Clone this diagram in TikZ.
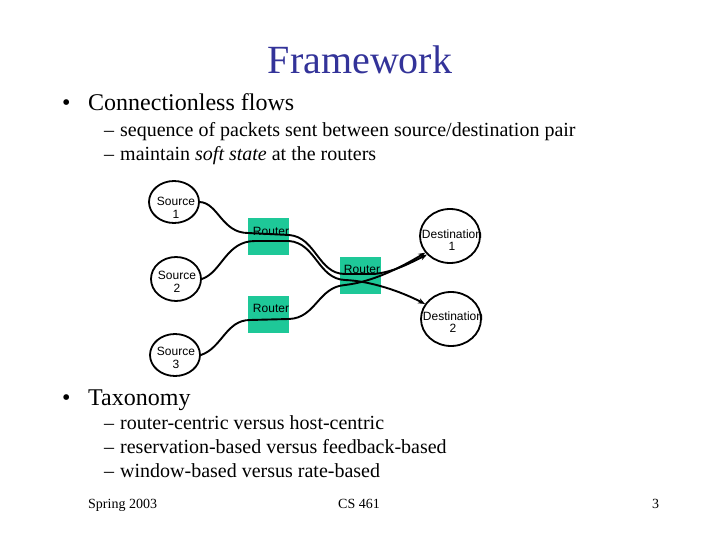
\documentclass[tikz,border=0pt]{standalone}
\usepackage{fontspec}
\setmainfont{Liberation Serif}
\newfontfamily\arialf{Liberation Sans}
\usetikzlibrary{arrows.meta,shapes.geometric}
\definecolor{titleblue}{RGB}{51,51,153}
\definecolor{routergreen}{RGB}{30,200,152}
\tikzset{
  txt/.style={anchor=base west, inner sep=0pt},
  bigtxt/.style={txt, font=\fontsize{24}{28}\selectfont},
  subtxt/.style={txt, font=\fontsize{20}{24}\selectfont},
  foot/.style={txt, font=\fontsize{14}{16}\selectfont},
  host/.style={ellipse, draw=black, line width=1.8pt, fill=white, inner sep=0pt},
  hostlabel/.style={align=center, inner sep=0pt, font=\arialf\fontsize{12}{12.5}\selectfont},
  routerbox/.style={rectangle, fill=routergreen, draw=none, minimum width=41pt, minimum height=37pt, inner sep=0pt},
  routerlabel/.style={inner sep=0pt, font=\arialf\fontsize{12}{12.5}\selectfont},
  flow/.style={line width=1.9pt, draw=black},
  flowarrow/.style={flow, -{Stealth[length=7pt,width=5.5pt]}}
}
\begin{document}
\begin{tikzpicture}[x=1pt,y=-1pt]
\useasboundingbox (0,0) rectangle (720,540);
% title
\node[anchor=base, inner sep=0pt, text=titleblue, font=\fontsize{40}{48}\selectfont] (title) at (360,74) {Framework};
% first bullet
\node[bigtxt] (b1) at (62,111) {\textbullet};
\node[bigtxt] (t1) at (88,111) {Connectionless flows};
\node[subtxt] (d11) at (104,137) {\textendash};
\node[subtxt] (t11) at (120,137) {sequence of packets sent between source/destination pair};
\node[subtxt] (d12) at (104,161) {\textendash};
\node[subtxt] (t12) at (120,161) {maintain \textit{soft state} at the routers};
% diagram: routers
\node[routerbox] (r1) at (268.5,236.5) {};
\node[routerbox] (r2) at (360.5,275) {};
\node[routerbox] (r3) at (268.5,314.5) {};
% hosts
\node[host, minimum width=50pt, minimum height=42pt] (s1) at (174,202) {};
\node[host, minimum width=50pt, minimum height=44pt] (s2) at (176,279) {};
\node[host, minimum width=50pt, minimum height=42pt] (s3) at (175,355) {};
\node[host, minimum width=60pt, minimum height=54pt] (dd1) at (450,236) {};
\node[host, minimum width=60pt, minimum height=54pt] (dd2) at (451,319) {};
% flows
\draw[flowarrow] (s1.east) .. controls (218,203) and (222,233) .. (248,233)
   -- (289,235) .. controls (316,237) and (318,274) .. (345,274)
   -- (374,274) .. controls (394,272) and (410,263) .. (dd1.219);
\draw[flowarrow] (s2.east) .. controls (222,272) and (226,241) .. (255,241)
   -- (289,241) .. controls (316,243) and (318,279) .. (345,280)
   .. controls (370,281) and (400,291) .. (dd2.150);
\draw[flowarrow] (s3.east) .. controls (222,348) and (226,320) .. (250,320)
   -- (289,319) .. controls (316,318) and (318,287) .. (345,285)
   .. controls (372,282) and (400,268) .. (dd1.214);
% host labels
\node[hostlabel] (s1t) at (176,208) {Source\\1};
\node[hostlabel] (s2t) at (177,282) {Source\\2};
\node[hostlabel] (s3t) at (176,358) {Source\\3};
\node[hostlabel] (d1t) at (452,240) {Destination\\1};
\node[hostlabel] (d2t) at (453,322) {Destination\\2};
% router labels
\node[routerlabel] (r1t) at (271,231) {Router};
\node[routerlabel] (r2t) at (362,269) {Router};
\node[routerlabel] (r3t) at (271,308) {Router};
% second bullet
\node[bigtxt] (b2) at (62,405) {\textbullet};
\node[bigtxt] (t2) at (88,405) {Taxonomy};
\node[subtxt] (d21) at (104,429) {\textendash};
\node[subtxt] (t21) at (120,429) {router-centric versus host-centric};
\node[subtxt] (d22) at (104,453) {\textendash};
\node[subtxt] (t22) at (120,453) {reservation-based versus feedback-based};
\node[subtxt] (d23) at (104,477) {\textendash};
\node[subtxt] (t23) at (120,477) {window-based versus rate-based};
% footer
\node[foot] (f1) at (88,508) {Spring 2003};
\node[foot] (f2) at (338,508) {CS 461};
\node[foot] (f3) at (652,508) {3};
\end{tikzpicture}
\end{document}
